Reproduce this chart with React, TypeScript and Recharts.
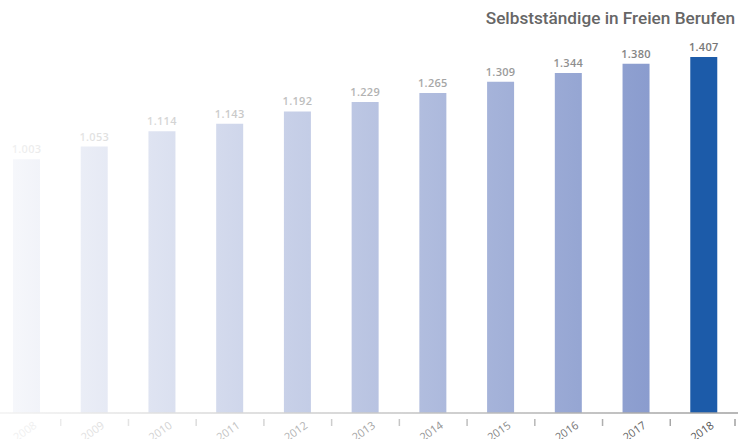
import React from "react";
import { BarChart, Bar, XAxis, YAxis, Cell, LabelList } from "recharts";

const years = ["2008", "2009", "2010", "2011", "2012", "2013", "2014", "2015", "2016", "2017", "2018"];
const selbststaendige = [1003, 1053, 1114, 1143, 1192, 1229, 1265, 1309, 1344, 1380, 1407];
const title = "Selbstständige in Freien Berufen";

const data = years.map((year, i) => ({ year, value: selbststaendige[i] }));

const fmt = (v: number) => {
  const s = String(Math.round(v));
  return s.replace(/\B(?=(\d{3})+(?!\d))/g, ".");
};

const ValueLabel = (props: any) => {
  const { x, y, width, value } = props;
  return (
    <text
      x={x + width / 2}
      y={y - 6}
      textAnchor="middle"
      fontFamily="'Open Sans', sans-serif"
      fontSize={11}
      fontWeight={600}
      letterSpacing={0.3}
      fill="url(#labelGrad)"
    >
      {fmt(value)}
    </text>
  );
};

const YearTick = (props: any) => {
  const { x, y, payload, index } = props;
  const half = payload && payload.offset ? payload.offset : 33.86;
  const last = index === years.length - 1;
  const tx = x - 2;
  const ty = y + 12;
  const col = Math.round(240 - (index / (years.length - 1)) * (240 - 85));
  const fill = `rgb(${col},${col},${col})`;
  return (
    <g>
      {index > 0 && (
        <line x1={x - half} x2={x - half} y1={y} y2={y + 7} stroke="url(#axisGrad)" strokeWidth={1.5} />
      )}
      {last && (
        <line x1={x + half - 3} x2={x + half - 3} y1={y} y2={y + 7} stroke="url(#axisGrad)" strokeWidth={1.5} />
      )}
      <g transform={`translate(${tx}, ${ty}) rotate(-35)`}>
        <text
          x={0}
          y={4}
          textAnchor="middle"
          fontFamily="'Open Sans', sans-serif"
          fontSize={11}
          fill={fill}
        >
          {payload.value}
        </text>
      </g>
    </g>
  );
};

export default function App() {
  return (
    <div style={{ position: "fixed", left: 0, top: 0, width: 739, height: 439, overflow: "hidden", background: "#fff" }}>
      <div
        style={{
          position: "absolute",
          right: 4,
          top: 8,
          fontFamily: "Roboto, sans-serif",
          fontSize: 17.2,
          fontWeight: 500,
          color: "#666",
          whiteSpace: "nowrap",
        }}
      >
        {title}
      </div>
      <div style={{ position: "absolute", left: -7, top: 0 }}>
        <BarChart
          width={745}
          height={439}
          data={data}
          margin={{ top: 33.5, right: 0, bottom: 0, left: 0 }}
        >
          <defs>
            <linearGradient id="barGrad" gradientUnits="userSpaceOnUse" x1={7} y1={0} x2={657} y2={0}>
              <stop offset="0%" stopColor="#f8f9fc" />
              <stop offset="100%" stopColor="#8a9cce" />
            </linearGradient>
            <linearGradient id="labelGrad" gradientUnits="userSpaceOnUse" x1={7} y1={0} x2={740} y2={0}>
              <stop offset="0%" stopColor="#f2f2f2" />
              <stop offset="100%" stopColor="#727272" />
            </linearGradient>
            <linearGradient id="axisGrad" gradientUnits="userSpaceOnUse" x1={7} y1={0} x2={740} y2={0}>
              <stop offset="0%" stopColor="#f2f2f2" />
              <stop offset="100%" stopColor="#a0a0a0" />
            </linearGradient>
          </defs>
          <YAxis hide domain={[0, 1500]} />
          <XAxis
            dataKey="year"
            height={26}
            axisLine={{ stroke: "url(#axisGrad)", strokeWidth: 1.5 }}
            tickLine={false}
            tickMargin={0}
            interval={0}
            tick={<YearTick />}
          />
          <Bar dataKey="value" barSize={27} isAnimationActive={false}>
            {data.map((d, i) => (
              <Cell key={d.year} fill={i === data.length - 1 ? "#1c5ba9" : "url(#barGrad)"} />
            ))}
            <LabelList dataKey="value" content={<ValueLabel />} />
          </Bar>
        </BarChart>
      </div>
    </div>
  );
}
